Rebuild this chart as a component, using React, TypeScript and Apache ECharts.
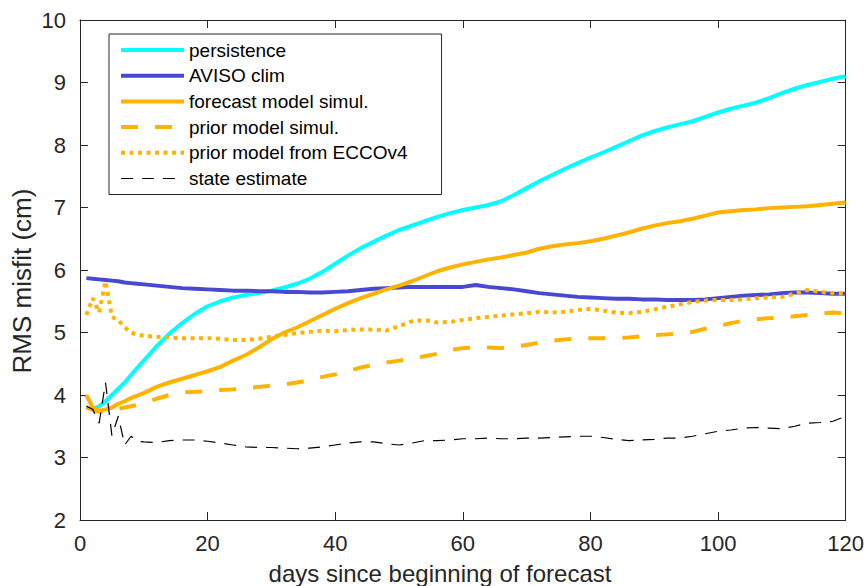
import React, { useEffect, useRef } from "react";
import * as echarts from "echarts";

const days = [1, 2, 3, 4, 5, 6, 7, 8, 9, 10,
  12, 14, 16, 18, 20, 22, 24, 26, 28, 30,
  32, 34, 36, 38, 40, 42, 44, 46, 48, 50,
  52, 54, 56, 58, 60, 62, 64, 66, 68, 70,
  72, 74, 76, 78, 80, 82, 84, 86, 88, 90,
  92, 94, 96, 98, 100, 102, 104, 106, 108, 110,
  112, 114, 116, 118, 120];

const persistence = [3.80, 3.78, 3.82, 3.90, 4.00, 4.10, 4.20, 4.32, 4.44, 4.55,
  4.78, 4.98, 5.15, 5.30, 5.42, 5.50, 5.56, 5.60, 5.63, 5.67,
  5.72, 5.78, 5.86, 5.97, 6.10, 6.23, 6.35, 6.45, 6.55, 6.64,
  6.71, 6.78, 6.85, 6.91, 6.96, 7.00, 7.04, 7.10, 7.20, 7.31,
  7.42, 7.52, 7.62, 7.71, 7.80, 7.88, 7.97, 8.06, 8.15, 8.22,
  8.28, 8.33, 8.38, 8.45, 8.52, 8.58, 8.63, 8.68, 8.75, 8.83,
  8.90, 8.96, 9.01, 9.06, 9.10];

const avisoClim = [5.87, 5.86, 5.85, 5.84, 5.83, 5.82, 5.80, 5.79, 5.78, 5.77,
  5.75, 5.73, 5.71, 5.70, 5.69, 5.68, 5.67, 5.67, 5.66, 5.66,
  5.65, 5.65, 5.64, 5.64, 5.65, 5.66, 5.68, 5.70, 5.71, 5.72,
  5.73, 5.73, 5.73, 5.73, 5.73, 5.76, 5.73, 5.71, 5.69, 5.66,
  5.63, 5.61, 5.59, 5.57, 5.56, 5.55, 5.54, 5.54, 5.53, 5.53,
  5.52, 5.52, 5.52, 5.53, 5.55, 5.57, 5.59, 5.60, 5.61, 5.63,
  5.64, 5.64, 5.63, 5.62, 5.62];

const forecastModel = [4.00, 3.80, 3.75, 3.77, 3.80, 3.86, 3.90, 3.95, 3.99, 4.03,
  4.13, 4.20, 4.26, 4.32, 4.38, 4.45, 4.55, 4.64, 4.76, 4.89,
  5.00, 5.08, 5.18, 5.28, 5.38, 5.47, 5.55, 5.62, 5.69, 5.75,
  5.82, 5.90, 5.98, 6.04, 6.09, 6.13, 6.17, 6.20, 6.24, 6.28,
  6.34, 6.38, 6.41, 6.43, 6.46, 6.50, 6.55, 6.60, 6.66, 6.71,
  6.75, 6.78, 6.82, 6.87, 6.92, 6.94, 6.96, 6.97, 6.99, 7.00,
  7.01, 7.02, 7.04, 7.06, 7.08];

const priorModel = [3.80, 3.76, 3.73, 3.74, 3.76, 3.78, 3.80, 3.82, 3.84, 3.87,
  3.94, 4.00, 4.04, 4.05, 4.06, 4.08, 4.09, 4.11, 4.13, 4.15,
  4.17, 4.20, 4.24, 4.29, 4.33, 4.38, 4.44, 4.48, 4.52, 4.55,
  4.58, 4.62, 4.66, 4.72, 4.75, 4.76, 4.76, 4.75, 4.77, 4.80,
  4.84, 4.87, 4.89, 4.90, 4.91, 4.91, 4.91, 4.92, 4.94, 4.96,
  4.97, 4.98, 5.01, 5.06, 5.10, 5.15, 5.19, 5.21, 5.23, 5.24,
  5.26, 5.28, 5.30, 5.32, 5.30];

const priorEcco = [5.28, 5.55, 5.32, 5.82, 5.25, 5.20, 5.08, 5.00, 4.96, 4.95,
  4.93, 4.92, 4.91, 4.91, 4.91, 4.90, 4.88, 4.88, 4.90, 4.93,
  4.96, 4.99, 5.01, 5.03, 5.02, 5.04, 5.05, 5.05, 5.03, 5.10,
  5.18, 5.20, 5.16, 5.17, 5.20, 5.23, 5.25, 5.27, 5.29, 5.31,
  5.33, 5.32, 5.33, 5.36, 5.38, 5.35, 5.32, 5.31, 5.33, 5.37,
  5.41, 5.45, 5.49, 5.51, 5.52, 5.52, 5.53, 5.55, 5.56, 5.57,
  5.62, 5.68, 5.65, 5.63, 5.62];

const stateEstimate = [3.82, 3.77, 3.55, 4.20, 3.35, 3.66, 3.20, 3.34, 3.26, 3.25,
  3.24, 3.27, 3.28, 3.28, 3.26, 3.23, 3.20, 3.17, 3.16, 3.16,
  3.15, 3.14, 3.15, 3.17, 3.20, 3.23, 3.25, 3.25, 3.22, 3.20,
  3.23, 3.27, 3.27, 3.28, 3.30, 3.30, 3.31, 3.30, 3.30, 3.31,
  3.31, 3.32, 3.33, 3.34, 3.34, 3.32, 3.29, 3.27, 3.28, 3.29,
  3.31, 3.31, 3.34, 3.38, 3.42, 3.44, 3.47, 3.48, 3.47, 3.46,
  3.50, 3.55, 3.56, 3.58, 3.66];

const seriesNames = [
  "persistence",
  "AVISO clim",
  "forecast model simul.",
  "prior model simul.",
  "prior model from ECCOv4",
  "state estimate",
];

const xTitle = "days since beginning of forecast";
const yTitle = "RMS misfit (cm)";

const FONT = "'Liberation Sans', Arial, Helvetica, sans-serif";
const AXIS_COLOR = "#262626";

function pairs(vals: number[]) {
  return vals.map((v, i) => [days[i], v]);
}

export default function App() {
  const ref = useRef<HTMLDivElement>(null);
  useEffect(() => {
    if (!ref.current) return;
    const chart = echarts.init(ref.current, undefined, { renderer: "svg" });
    const axisCommon = {
      axisLine: { show: true, onZero: false, lineStyle: { color: AXIS_COLOR, width: 1 } },
      axisTick: { show: true, inside: true, length: 8, lineStyle: { color: AXIS_COLOR, width: 1 } },
      splitLine: { show: false },
    };
    const lineSeries = (name: string, data: number[], color: string, width: number, type: any) => ({
      name,
      type: "line",
      data: pairs(data),
      symbol: "none",
      showSymbol: false,
      lineStyle: { color, width, type },
      itemStyle: { color },
      emphasis: { disabled: true },
    });
    chart.setOption({
      animation: false,
      backgroundColor: "#ffffff",
      textStyle: { fontFamily: FONT },
      grid: { left: 80, right: 18, top: 20, bottom: 66, containLabel: false },
      xAxis: [
        {
          type: "value", min: 0, max: 120, interval: 20, position: "bottom",
          ...axisCommon,
          axisLabel: { fontSize: 22, color: AXIS_COLOR, margin: 12, fontFamily: FONT },
        },
        {
          type: "value", min: 0, max: 120, interval: 20, position: "top",
          ...axisCommon,
          axisLabel: { show: false },
        },
      ],
      yAxis: [
        {
          type: "value", min: 2, max: 10, interval: 1, position: "left",
          ...axisCommon,
          axisLabel: { fontSize: 22, color: AXIS_COLOR, margin: 14, fontFamily: FONT },
        },
        {
          type: "value", min: 2, max: 10, interval: 1, position: "right",
          ...axisCommon,
          axisLabel: { show: false },
        },
      ],
      legend: {
        orient: "vertical",
        left: 109,
        top: 34,
        padding: [6, 34, 6, 10],
        itemWidth: 63,
        itemHeight: 20,
        itemGap: 5.7,
        borderColor: AXIS_COLOR,
        borderWidth: 1,
        backgroundColor: "#ffffff",
        selectedMode: false,
        itemStyle: { color: "rgba(0,0,0,0)", borderColor: "rgba(0,0,0,0)", borderWidth: 0, opacity: 0 },
        lineStyle: { width: "inherit", type: "inherit", color: "inherit" },
        textStyle: { fontSize: 19, color: "#000", fontFamily: FONT, lineHeight: 20 },
        data: seriesNames,
      },
      series: [
        lineSeries(seriesNames[0], persistence, "#00FFFF", 4, "solid"),
        lineSeries(seriesNames[1], avisoClim, "#4848D0", 4, "solid"),
        lineSeries(seriesNames[2], forecastModel, "#FFB300", 4, "solid"),
        lineSeries(seriesNames[3], priorModel, "#FFB300", 4, [17, 17]),
        lineSeries(seriesNames[4], priorEcco, "#FFB300", 4, [4, 4.5]),
        lineSeries(seriesNames[5], stateEstimate, "#000000", 1.2, [12, 9]),
      ],
      graphic: [
        {
          type: "text",
          x: 22,
          y: 281,
          rotation: Math.PI / 2,
          style: {
            text: yTitle,
            fontSize: 26,
            fontFamily: FONT,
            fill: AXIS_COLOR,
            align: "center",
            verticalAlign: "middle",
          },
        },
        {
          type: "text",
          x: 440,
          y: 573,
          style: {
            text: xTitle,
            fontSize: 24,
            fontFamily: FONT,
            fill: AXIS_COLOR,
            align: "center",
            verticalAlign: "middle",
          },
        },
      ],
    });
    return () => chart.dispose();
  }, []);
  return (
    <div
      ref={ref}
      style={{ position: "fixed", left: 0, top: 0, width: 867, height: 586, background: "#fff" }}
    />
  );
}
